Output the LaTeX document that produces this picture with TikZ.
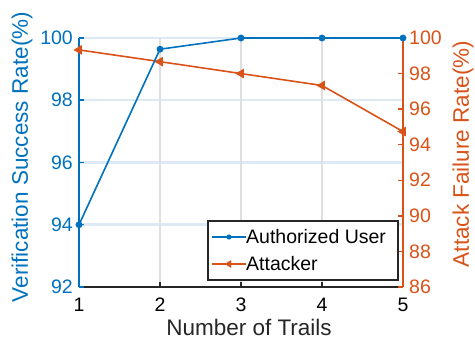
\documentclass[tikz,border=0pt]{standalone}
\usepackage{fontspec}
\setmainfont{Liberation Sans}
\usetikzlibrary{plotmarks}
\definecolor{plotblue}{RGB}{0,114,189}
\definecolor{plotorange}{RGB}{217,83,25}
\definecolor{gridgray}{RGB}{223,223,223}
\definecolor{gridblue}{RGB}{221,234,246}
\definecolor{axisblack}{RGB}{38,38,38}

\begin{document}
\begin{tikzpicture}[x=1pt,y=1pt,
  ticklbl/.style={font=\fontsize{19.5}{22}\selectfont, inner sep=1pt},
  axlbl/.style={font=\fontsize{22.5}{26}\selectfont, inner sep=1pt},
  gridline/.style={line width=2.5pt},
  dataline/.style={line width=1.6pt}]
\useasboundingbox (0,0) rectangle (475,343);

% Left axis (Verification Success Rate)
\begin{scope}[x=81pt,y=31.125pt,xshift=-2pt,yshift=-2807.5pt]
% Grid
\foreach \v in {94,96,98,100}
  \draw[gridblue,gridline] (1,\v) -- (5,\v);
\foreach \t in {2,3,4}
  \draw[gridgray,gridline] (\t,92) -- (\t,100);

% Bottom axis
\draw[axisblack,line width=2.2pt] (1,92) -- (5,92);
\foreach \t in {1,...,5} {
  \draw[axisblack,line width=1.5pt] (\t,92) -- ++(0,5pt);
  \node[ticklbl,anchor=north,yshift=-10pt] (xt\t) at (\t,92) {\t};
}

% Left axis line and ticks
\draw[plotblue,line width=2.2pt] (1,92) -- (1,100);
\foreach \v in {92,94,96,98,100} {
  \draw[plotblue,line width=1.5pt] (1,\v) -- ++(5pt,0);
  \node[ticklbl,plotblue,anchor=east,xshift=-5pt] (yl\v) at (1,\v) {\v};
}
\end{scope}

% Right axis (Attack Failure Rate)
\begin{scope}[x=81pt,y=17.7857pt,xshift=-2pt,yshift=-1473.57pt]
\draw[plotorange,line width=2.2pt] (5,86) -- (5,100);
\foreach \v in {86,88,...,100} {
  \draw[plotorange,line width=1.5pt] (5,\v) -- ++(-5pt,0);
  \node[ticklbl,plotorange,anchor=west,xshift=5pt] (yr\v) at (5,\v) {\v};
}
% Attacker
\draw[plotorange,dataline,mark=triangle*,mark size=4pt,mark options={rotate=90}]
  plot coordinates {(1,99.33) (2,98.67) (3,98) (4,97.33) (5,94.74)};
\end{scope}

% Authorized user
\begin{scope}[x=81pt,y=31.125pt,xshift=-2pt,yshift=-2807.5pt]
\draw[plotblue,dataline,mark=*,mark size=2.6pt]
  plot coordinates {(1,94) (2,99.64) (3,100) (4,100) (5,100)};
\end{scope}

% Axis labels
\node[axlbl,plotblue,rotate=90] (ylabL) at (22,186) {Verification Success Rate(\%)};
\node[axlbl,plotorange,rotate=90] (ylabR) at (463,189) {Attack Failure Rate(\%)};
\node[axlbl,axisblack] (xlab) at (249,16) {Number of Trails};

% Legend
\draw[axisblack,fill=white,line width=2.2pt] (208,63) rectangle (398,122);
\coordinate (lgA1) at (212,106);
\coordinate (lgA2) at (246,106);
\coordinate (lgB1) at (212,79);
\coordinate (lgB2) at (246,79);
\draw[plotblue,dataline] (lgA1) -- (lgA2);
\fill[plotblue] (229,106) circle (2.6pt);
\draw[plotorange,dataline] (lgB1) -- (lgB2);
\draw[plotorange,mark=triangle*,mark size=4pt,mark options={rotate=90}] plot coordinates {(229,79)};
\node[ticklbl,anchor=west,inner sep=0pt] (lgAtxt) at (lgA2) {Authorized User};
\node[ticklbl,anchor=west,inner sep=0pt] (lgBtxt) at (lgB2) {Attacker};
\end{tikzpicture}
\end{document}
